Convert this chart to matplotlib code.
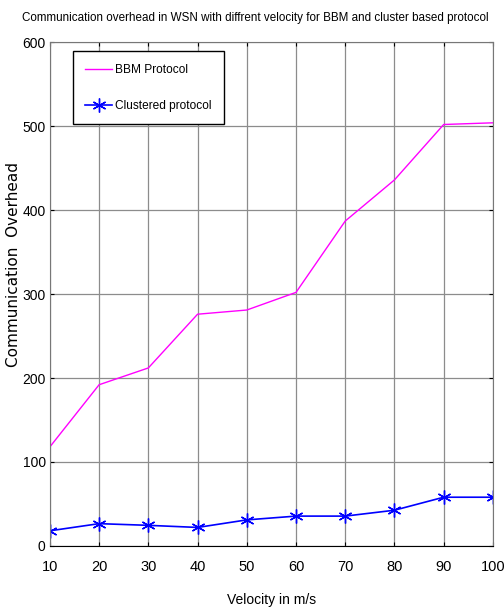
import matplotlib
matplotlib.use("Agg")
from matplotlib import pyplot as plt

velocity = [10, 20, 30, 40, 50, 60, 70, 80, 90, 100]
bbm_overhead = [118, 192, 212, 276, 281, 302, 387, 436, 502, 504]
cluster_overhead = [18, 26.5, 24.5, 22, 31, 35.5, 35.5, 42.5, 58, 58]

plt.rcParams["font.family"] = ["Liberation Sans", "DejaVu Sans"]

fig = plt.figure(figsize=(5.04, 6.12), dpi=100)
ax = fig.add_axes([0.099, 0.108, 0.879, 0.823])

ax.plot(velocity, bbm_overhead, color="#ff00ff", lw=1.0, label="BBM Protocol")
# asterisk markers for the clustered series
ax.plot(velocity, cluster_overhead, color="#0000ff", lw=1.2, marker=(6, 2, 0),
        markersize=10, markeredgewidth=1.0, label="Clustered protocol")

ax.set_xlim(10, 100)
ax.set_ylim(0, 600)
ax.set_xticks(velocity)
ax.set_yticks(range(0, 601, 100))
ax.grid(True, color="#8c8c8c", lw=0.9)
for side in ["left", "right", "top"]:
    ax.spines[side].set_color("#777777")
ax.tick_params(direction="in", top=True, right=True, length=3)
ax.tick_params(axis="x", pad=10, labelsize=10.5)
ax.tick_params(axis="y", pad=3, labelsize=10)

fig.text(0.506, 0.971,
         "Communication overhead in WSN with diffrent velocity for BBM and cluster based protocol",
         ha="center", va="center", fontsize=8.4)
ax.set_xlabel("Velocity in m/s", fontsize=10, labelpad=14)
fig.text(0.027, 0.567, "Communication  Overhead", rotation=90, ha="center", va="center",
         fontfamily="DejaVu Sans", fontsize=11)

leg = ax.legend(loc="upper left", bbox_to_anchor=(0.052, 0.982), borderaxespad=0,
                fancybox=False, edgecolor="black", framealpha=1, borderpad=1.05,
                labelspacing=2.0, handlelength=2.2, handletextpad=0.3,
                prop={"size": 8.6})
leg.get_frame().set_linewidth(1.0)

fig.savefig("out.png", dpi=100)
